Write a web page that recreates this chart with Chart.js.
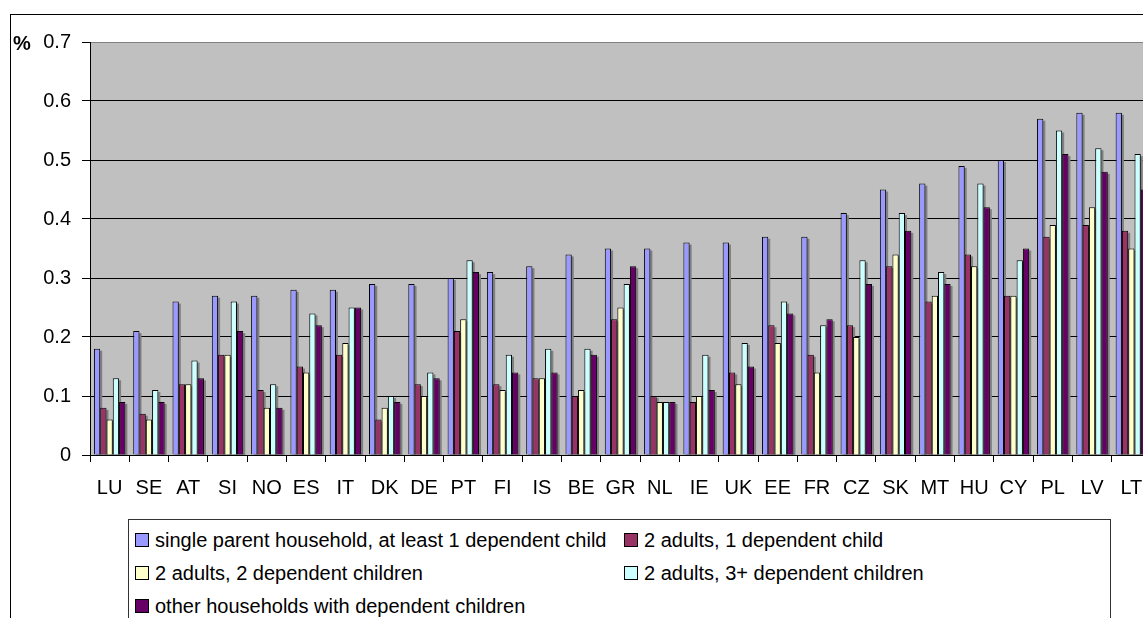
<!DOCTYPE html>
<html>
<head>
<meta charset="utf-8">
<script src="https://cdn.jsdelivr.net/npm/chart.js@4"></script>
<style>
    html, body { margin: 0; padding: 0; background: #fff; overflow: hidden; }
    body { width: 1143px; height: 618px; position: relative; font-family: "Liberation Sans", Arial, sans-serif; }
    #frame { position: absolute; left: 10px; top: 14px; width: 1200px; height: 700px; border: 1px solid #000; }
    #chart { position: absolute; left: 0; top: 0; }
    #pct { position: absolute; left: 13px; top: 31px; font-weight: bold; font-size: 20px; line-height: 24px; color: #000; }
    #legend { position: absolute; left: 128px; top: 519px; width: 981px; height: 200px; border: 1px solid #333; background: #fff; }
    .item { position: absolute; font-size: 20px; line-height: 24px; color: #000; white-space: nowrap; }
    .box { position: absolute; width: 12px; height: 12px; border: 1px solid #000; }
</style>
</head>
<body>
<div id="frame"></div>
<canvas id="chart" width="1160" height="512"></canvas>
<div id="pct">%</div>
<div id="legend"></div>
<script>
const countries = ["LU", "SE", "AT", "SI", "NO", "ES", "IT", "DK", "DE", "PT", "FI", "IS", "BE", "GR", "NL", "IE", "UK", "EE", "FR", "CZ", "SK", "MT", "HU", "CY", "PL", "LV", "LT"];

const singleParent = [0.18, 0.21, 0.26, 0.27, 0.27, 0.28, 0.28, 0.29, 0.29, 0.30, 0.31, 0.32, 0.34, 0.35, 0.35, 0.36, 0.36, 0.37, 0.37, 0.41, 0.45, 0.46, 0.49, 0.50, 0.57, 0.58, 0.58];
const twoAdultsOne = [0.08, 0.07, 0.12, 0.17, 0.11, 0.15, 0.17, 0.06, 0.12, 0.21, 0.12, 0.13, 0.10, 0.23, 0.10, 0.09, 0.14, 0.22, 0.17, 0.22, 0.32, 0.26, 0.34, 0.27, 0.37, 0.39, 0.38];
const twoAdultsTwo = [0.06, 0.06, 0.12, 0.17, 0.08, 0.14, 0.19, 0.08, 0.10, 0.23, 0.11, 0.13, 0.11, 0.25, 0.09, 0.10, 0.12, 0.19, 0.14, 0.20, 0.34, 0.27, 0.32, 0.27, 0.39, 0.42, 0.35];
const twoAdultsThree = [0.13, 0.11, 0.16, 0.26, 0.12, 0.24, 0.25, 0.10, 0.14, 0.33, 0.17, 0.18, 0.18, 0.29, 0.09, 0.17, 0.19, 0.26, 0.22, 0.33, 0.41, 0.31, 0.46, 0.33, 0.55, 0.52, 0.51];
const otherHouseholds = [0.09, 0.09, 0.13, 0.21, 0.08, 0.22, 0.25, 0.09, 0.13, 0.31, 0.14, 0.14, 0.17, 0.32, 0.09, 0.11, 0.15, 0.24, 0.23, 0.29, 0.38, 0.29, 0.42, 0.35, 0.51, 0.48, 0.45];

const seriesNames = [
    "single parent household, at least 1 dependent child",
    "2 adults, 1 dependent child",
    "2 adults, 2 dependent children",
    "2 adults, 3+ dependent children",
    "other households with dependent children"
];
const seriesColors = ["#9999FF", "#993366", "#FFFFCC", "#CCFFFF", "#660066"];
const seriesValues = [singleParent, twoAdultsOne, twoAdultsTwo, twoAdultsThree, otherHouseholds];

const yTicks = [0, 0.1, 0.2, 0.3, 0.4, 0.5, 0.6, 0.7];

const font = { family: "'Liberation Sans', Arial, sans-serif", size: 20 };

// gray plot background like the old Excel charts
const plotBg = {
    id: "plotBg",
    beforeDraw(chart) {
        const a = chart.chartArea;
        const c = chart.ctx;
        c.save();
        c.fillStyle = "#C0C0C0";
        c.fillRect(a.left, a.top, a.right - a.left, a.bottom - a.top);
        c.restore();
    }
};

// small drop shadow behind each bar
const barShadow = {
    id: "barShadow",
    beforeDatasetsDraw(chart) {
        const c = chart.ctx;
        const a = chart.chartArea;
        c.save();
        c.beginPath();
        c.rect(a.left, a.top, a.right - a.left, a.bottom - a.top);
        c.clip();
        c.fillStyle = "#808080";
        chart.data.datasets.forEach((ds, i) => {
            chart.getDatasetMeta(i).data.forEach(bar => {
                const p = bar.getProps(["x", "y", "base", "width"], true);
                c.fillRect(p.x - p.width / 2 + 2, p.y + 2, p.width, p.base - p.y);
            });
        });
        c.restore();
    }
};

const chart = new Chart(document.getElementById("chart"), {
    type: "bar",
    data: {
        labels: countries,
        datasets: seriesNames.map((name, i) => ({
            label: name,
            data: seriesValues[i],
            backgroundColor: seriesColors[i],
            borderColor: "#000",
            borderWidth: 1,
            borderSkipped: "bottom",
            categoryPercentage: 0.8,
            barPercentage: 1.0
        }))
    },
    options: {
        responsive: false,
        animation: false,
        layout: { padding: { top: 42, right: 9, left: 0, bottom: 0 } },
        plugins: {
            legend: { display: false },
            tooltip: { enabled: false }
        },
        scales: {
            x: {
                grid: {
                    offset: true,
                    drawOnChartArea: false,
                    color: "#000",
                    tickLength: 7
                },
                border: { color: "#000" },
                ticks: { color: "#000", font: font, padding: 14, maxRotation: 0, autoSkip: false },
                afterFit(scale) { scale.height = 57; }
            },
            y: {
                min: 0,
                max: 0.7,
                afterBuildTicks(scale) { scale.ticks = yTicks.map(v => ({ value: v })); },
                grid: {
                    color: (ctx) => (ctx.tick && ctx.tick.value === 0.7 ? "#808080" : "#000"),
                    tickColor: "#000",
                    tickLength: 8
                },
                border: { color: "#000" },
                ticks: {
                    color: "#000",
                    font: font,
                    padding: 11,
                    callback: (v) => String(Number(v.toFixed(1)))
                },
                afterFit(scale) { scale.width = 90; }
            }
        }
    },
    plugins: [plotBg, barShadow]
});

// legend laid out like the original two-column box
const legend = document.getElementById("legend");
const slots = [[6, 9], [495, 9], [6, 42], [495, 42], [6, 75]];
chart.data.datasets.forEach((ds, i) => {
    const [x, y] = slots[i];
    const box = document.createElement("div");
    box.className = "box";
    box.style.left = x + "px";
    box.style.top = (y + 4) + "px";
    box.style.background = ds.backgroundColor;
    legend.appendChild(box);
    const txt = document.createElement("div");
    txt.className = "item";
    txt.style.left = (x + 20) + "px";
    txt.style.top = (y - 1) + "px";
    txt.textContent = ds.label;
    legend.appendChild(txt);
});
</script>
</body>
</html>
